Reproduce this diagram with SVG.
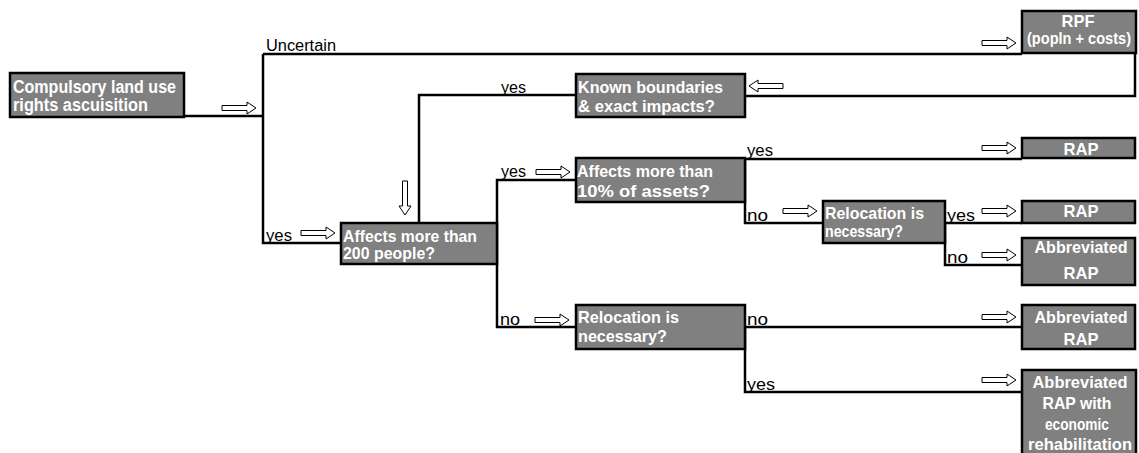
<svg xmlns="http://www.w3.org/2000/svg" xmlns:xlink="http://www.w3.org/1999/xlink" width="1139" height="453" viewBox="0 0 1139 453">
<defs>
<style>
.box{fill:#808080;stroke:#000;stroke-width:2.5}
.bt{font-family:"Liberation Sans",Arial,sans-serif;font-size:17px;font-weight:bold;fill:#fff}
.big{font-size:18px}
.c{text-anchor:middle}
.lb{font-family:"Liberation Sans",Arial,sans-serif;font-size:16px;fill:#000}
.ln{fill:none;stroke:#000;stroke-width:2.5}
.ar{fill:#fff;stroke:#000;stroke-width:1}
</style>
<path id="ar" class="ar" d="M0,-2.5 H25 V-6 L34,0 L25,6 V2.5 H0 Z"/>
</defs>
<rect width="1139" height="453" fill="#fff"/>
<g id="connectors">
<path class="ln" d="M184,116 H263 M263,54 V243 H341 M263,54 H1022"/>
<path class="ln" d="M1135,53 V96 H745"/>
<path class="ln" d="M576,95 H419 V223"/>
<path class="ln" d="M576,180 H497 V327 H576"/>
<path class="ln" d="M745,159 H1022 M745,159 V223 H823"/>
<path class="ln" d="M945,223 H1022 M945,223 V265 H1022"/>
<path class="ln" d="M745,327 H1022 M745,327 V392 H1022"/>
<use xlink:href="#ar" transform="translate(222,108)"/>
<use xlink:href="#ar" transform="translate(982,43)"/>
<use xlink:href="#ar" transform="translate(783,86) rotate(180)"/>
<use xlink:href="#ar" transform="translate(405,181) rotate(90)"/>
<use xlink:href="#ar" transform="translate(301,233)"/>
<use xlink:href="#ar" transform="translate(536,172)"/>
<use xlink:href="#ar" transform="translate(982,148)"/>
<use xlink:href="#ar" transform="translate(783,211)"/>
<use xlink:href="#ar" transform="translate(982,211)"/>
<use xlink:href="#ar" transform="translate(982,255)"/>
<use xlink:href="#ar" transform="translate(535,320)"/>
<use xlink:href="#ar" transform="translate(982,317)"/>
<use xlink:href="#ar" transform="translate(982,380)"/>
<text class="lb" x="266" y="51" textLength="70" lengthAdjust="spacingAndGlyphs">Uncertain</text>
<text class="lb" x="501" y="93" textLength="25" lengthAdjust="spacingAndGlyphs">yes</text>
<text class="lb" x="266" y="241" textLength="26" lengthAdjust="spacingAndGlyphs">yes</text>
<text class="lb" x="501" y="177" textLength="25" lengthAdjust="spacingAndGlyphs">yes</text>
<text class="lb" x="747" y="156" textLength="26" lengthAdjust="spacingAndGlyphs">yes</text>
<text class="lb" x="747" y="221" textLength="21" lengthAdjust="spacingAndGlyphs">no</text>
<text class="lb" x="947" y="221" textLength="28" lengthAdjust="spacingAndGlyphs">yes</text>
<text class="lb" x="947" y="263" textLength="21" lengthAdjust="spacingAndGlyphs">no</text>
<text class="lb" x="500" y="325" textLength="20" lengthAdjust="spacingAndGlyphs">no</text>
<text class="lb" x="747" y="325" textLength="21" lengthAdjust="spacingAndGlyphs">no</text>
<text class="lb" x="747" y="390" textLength="28" lengthAdjust="spacingAndGlyphs">yes</text>
</g>
<g id="n-compulsory">
<rect class="box" x="10" y="73" width="174" height="44"/>
<text class="bt big" x="13" y="93" textLength="163" lengthAdjust="spacingAndGlyphs">Compulsory land use</text>
<text class="bt big" x="13" y="111" textLength="135" lengthAdjust="spacingAndGlyphs">rights ascuisition</text>
</g>
<g id="n-rpf">
<rect class="box" x="1022" y="11" width="114" height="42"/>
<text class="bt c" x="1078" y="27" textLength="33" lengthAdjust="spacingAndGlyphs">RPF</text>
<text class="bt c" x="1079" y="44" style="font-size:16px" textLength="104" lengthAdjust="spacingAndGlyphs">(popln + costs)</text>
</g>
<g id="n-known">
<rect class="box" x="576" y="74" width="169" height="43"/>
<text class="bt" x="578" y="93" textLength="145" lengthAdjust="spacingAndGlyphs">Known boundaries</text>
<text class="bt" x="578" y="112" textLength="137" lengthAdjust="spacingAndGlyphs">&amp; exact impacts?</text>
</g>
<g id="n-affects200">
<rect class="box" x="341" y="223" width="156" height="41"/>
<text class="bt" x="343" y="242" textLength="134" lengthAdjust="spacingAndGlyphs">Affects more than</text>
<text class="bt" x="343" y="259" textLength="92" lengthAdjust="spacingAndGlyphs">200 people?</text>
</g>
<g id="n-affects10">
<rect class="box" x="576" y="158" width="169" height="44"/>
<text class="bt" x="577" y="177" textLength="136" lengthAdjust="spacingAndGlyphs">Affects more than</text>
<text class="bt" x="577" y="197" textLength="133" lengthAdjust="spacingAndGlyphs">10% of assets?</text>
</g>
<g id="n-reloc1">
<rect class="box" x="823" y="201" width="122" height="42"/>
<text class="bt" x="825" y="219" textLength="99" lengthAdjust="spacingAndGlyphs">Relocation is</text>
<text class="bt" x="825" y="237" textLength="78" lengthAdjust="spacingAndGlyphs">necessary?</text>
</g>
<g id="n-reloc2">
<rect class="box" x="576" y="305" width="169" height="44"/>
<text class="bt" x="578" y="323" textLength="101" lengthAdjust="spacingAndGlyphs">Relocation is</text>
<text class="bt" x="578" y="342" textLength="89" lengthAdjust="spacingAndGlyphs">necessary?</text>
</g>
<g id="n-rap1">
<rect class="box" x="1022" y="138" width="113" height="20"/>
<text class="bt c" x="1081" y="155" textLength="35" lengthAdjust="spacingAndGlyphs">RAP</text>
</g>
<g id="n-rap2">
<rect class="box" x="1022" y="201" width="113" height="22"/>
<text class="bt c" x="1081" y="217" textLength="35" lengthAdjust="spacingAndGlyphs">RAP</text>
</g>
<g id="n-abbr1">
<rect class="box" x="1022" y="238" width="113" height="47"/>
<text class="bt c" x="1081" y="253" textLength="93" lengthAdjust="spacingAndGlyphs">Abbreviated</text>
<text class="bt c" x="1081" y="279" textLength="35" lengthAdjust="spacingAndGlyphs">RAP</text>
</g>
<g id="n-abbr2">
<rect class="box" x="1022" y="305" width="113" height="44"/>
<text class="bt c" x="1081" y="323" textLength="93" lengthAdjust="spacingAndGlyphs">Abbreviated</text>
<text class="bt c" x="1081" y="345" textLength="35" lengthAdjust="spacingAndGlyphs">RAP</text>
</g>
<g id="n-abbr3">
<rect class="box" x="1022" y="370" width="114" height="86"/>
<text class="bt c" x="1080" y="388" textLength="95" lengthAdjust="spacingAndGlyphs">Abbreviated</text>
<text class="bt c" x="1077" y="409" textLength="69" lengthAdjust="spacingAndGlyphs">RAP with</text>
<text class="bt c" x="1077" y="430" textLength="64" lengthAdjust="spacingAndGlyphs">economic</text>
<text class="bt c" x="1080" y="450" textLength="104" lengthAdjust="spacingAndGlyphs">rehabilitation</text>
</g>
</svg>
